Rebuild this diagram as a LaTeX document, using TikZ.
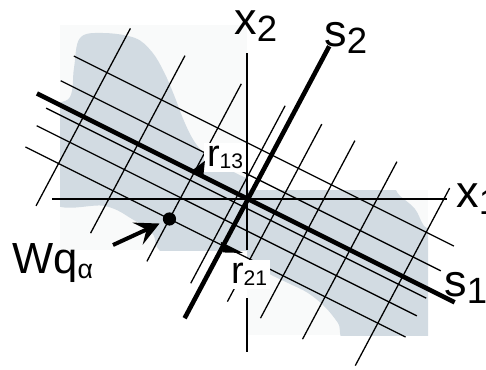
\documentclass[tikz,border=0pt]{standalone}
\usepackage{fontspec}
\setmainfont{Liberation Sans}
\usepackage{tikz}
\usetikzlibrary{arrows.meta}
\definecolor{BlobGray}{HTML}{D2DBE2}
\definecolor{SheetGray}{HTML}{F9FAFA}
\newcommand\axlab[2]{#1\raisebox{-5pt}{\fontsize{26}{26}\selectfont #2}}
\newcommand\rlab[1]{r\raisebox{-2pt}{\fontsize{15}{15}\selectfont #1}}

\begin{document}
\begin{tikzpicture}[
  x=0.25mm, y=-0.25mm,
  skew/.style={shift={(248,199)},x={(-26.57:0.25mm)},y={(62:0.25mm)}},
  gridline/.style={line width=0.32mm},
  mainline/.style={line width=1.15mm},
  axisline/.style={line width=0.33mm},
  axlabel/.style={anchor=base west,inner sep=0pt,font=\fontsize{32}{32}\selectfont},
  rlabel/.style={anchor=base west,inner sep=0.7mm,fill=white,font=\fontsize{27}{27}\selectfont},
  dot/.style={circle,fill,inner sep=0pt,minimum size=3.3mm},
  arr/.style={-{Stealth[length=6mm,width=6mm,inset=2.4mm]},line width=1mm,shorten >=1mm}
]
\useasboundingbox (0,0) rectangle (486,369);
% shaded cloud
\fill[SheetGray] (60,25) rectangle (247,250);
\fill[SheetGray] (247,190) rectangle (428,335);
\begin{scope}
  \clip (60,25) rectangle (247,250);
  \fill[BlobGray] plot[smooth cycle,tension=0.6] coordinates {(80,38) (103,33) (135,38) (152,52) (164,72) (174,95) (184,121) (194,141) (205,154) (218,163) (230,170) (244,177) (262,184) (270,270) (170,256) (152,233) (132,219) (105,206) (50,200) (50,115) (70,97) (74,68)};
\end{scope}
\begin{scope}
  \clip (247,190) rectangle (428,335);
  \fill[BlobGray] plot[smooth cycle,tension=0.6] coordinates {(240,180) (320,180) (385,184) (400,196) (415,209) (424,226) (440,245) (440,345) (352,345) (338,323) (325,307) (308,293) (288,283) (268,273) (255,261) (240,248)};
\end{scope}
% axes
\draw[axisline] (52,199) -- (447,199);
\draw[axisline] (247,53) -- (247,250);
\draw[axisline] (247,298) -- (247,352);
% grid along s1 and s2
\begin{scope}[skew]
  \foreach \e in {-184,-123,-60,-11,30,67,114,173}
    \draw[gridline] (\e,-101) -- (\e,100);
  \foreach \d in {50,22,-9,-29,-53}
    \draw[gridline] (-221,\d) -- (204,\d);
  \draw[mainline] (-236,0) -- (231,0);
  \draw[mainline] (0,-135) -- (0,173);
\end{scope}
% labels
\node[axlabel] (x2lab) at (234,34) {\axlab{x}{2}};
\node[axlabel] (s2lab) at (324,46) {\axlab{s}{2}};
\node[axlabel] (x1lab) at (456,207) {\axlab{x}{1}};
\node[axlabel] (s1lab) at (444,296) {\axlab{s}{1}};
\node[rlabel] (r13lab) at (204,166) {\rlab{13}};
\node[rlabel] (r21lab) at (228,283) {\rlab{21}};
\node[axlabel,font=\fontsize{31}{31}\selectfont] (wqlab) at (12,273) {Wq\raisebox{-4pt}{\fontsize{19}{19}\selectfont α}};
% markers and point
\begin{scope}[skew]
  \fill (-63,0) -- (-50,0) -- (-56,15) -- cycle;
  \fill (-4,-50.5) -- (21,-50.5) -- (3,-59) -- cycle;
  \node[dot] (wq) at (-60,-53) {};
\end{scope}
\coordinate (wqtail) at (113,245);
\draw[arr] (wqtail) -- (wq);
\end{tikzpicture}
\end{document}
